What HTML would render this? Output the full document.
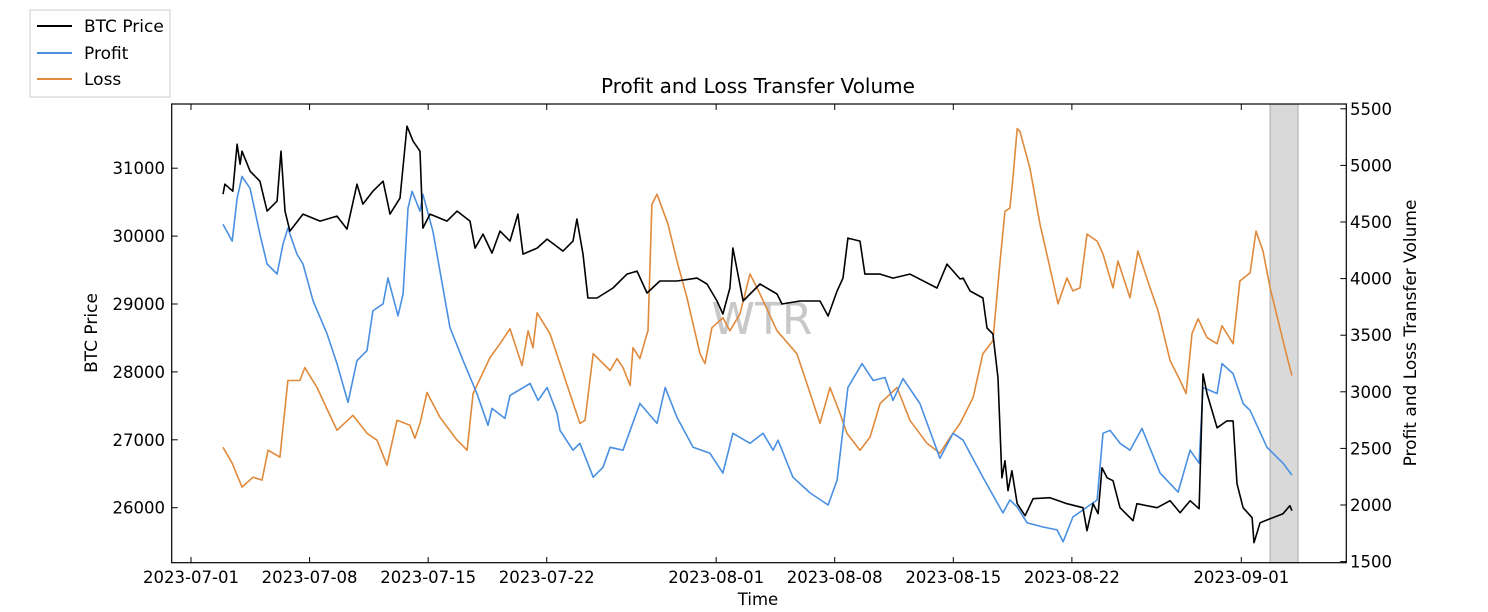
<!DOCTYPE html>
<html><head><meta charset="utf-8"><style>
body{margin:0;background:#fff;}
svg{display:block;font-family:"DejaVu Sans","Liberation Sans",sans-serif;}
</style></head><body>
<svg id="chart" width="1488" height="612" viewBox="0 0 1488 612" xmlns="http://www.w3.org/2000/svg">
<rect width="1488" height="612" fill="#fff"/>
<text x="762" y="334" font-size="44" fill="#c8c8c8" text-anchor="middle">WTR</text>
<g id="span"></g>
<g id="lines"></g>
<rect x="171.7" y="104" width="1174.6" height="458.7" fill="none" stroke="#000" stroke-width="1.2"/>
<g id="axes"></g>
<text x="758" y="93" font-size="20" text-anchor="middle">Profit and Loss Transfer Volume</text>
<text x="758" y="605" font-size="16.5" text-anchor="middle">Time</text>
<text transform="translate(97,333) rotate(-90)" font-size="17" text-anchor="middle">BTC Price</text>
<text transform="translate(1416,333) rotate(-90)" font-size="17" text-anchor="middle">Profit and Loss Transfer Volume</text>
<g>
<rect x="30" y="10" width="140" height="87" fill="#fff" stroke="#ccc" stroke-width="1"/>
<g><line x1="37" y1="26" x2="72" y2="26" stroke="#000" stroke-width="2"/><text x="84" y="32" font-size="17">BTC Price</text></g>
<g><line x1="37" y1="53" x2="72" y2="53" stroke="#4a90e2" stroke-width="2"/><text x="84" y="59" font-size="17">Profit</text></g>
<g><line x1="37" y1="79" x2="72" y2="79" stroke="#e08a3c" stroke-width="2"/><text x="84" y="85" font-size="17">Loss</text></g>
</g>
</svg>
<script>
const priceDays=[1.89,2.00,2.47,2.72,2.90,3.01,3.49,4.07,4.49,5.08,5.31,5.55,5.84,6.61,7.62,8.62,9.21,9.80,10.15,10.74,11.34,11.75,12.34,12.75,13.11,13.52,13.69,14.11,15.11,15.71,16.47,16.77,17.24,17.77,18.24,18.83,19.30,19.60,20.43,21.02,21.96,22.55,22.78,23.14,23.43,23.97,24.91,25.74,26.33,26.92,27.68,28.69,29.87,30.46,31.05,31.40,31.81,31.99,32.59,33.59,34.59,34.89,35.95,37.13,37.61,38.14,38.49,38.78,39.49,39.78,40.68,41.44,42.44,44.04,44.63,45.40,45.58,45.99,46.75,46.99,47.34,47.64,47.87,48.05,48.23,48.46,48.77,49.24,49.71,50.71,51.71,52.65,52.89,53.25,53.55,53.78,54.08,54.43,54.84,55.61,55.84,57.03,57.80,58.39,58.98,59.51,59.74,59.98,60.57,61.15,61.52,61.75,62.11,62.64,62.75,63.11,64.46,64.87,64.99];
const priceValues=[30618,30765,30662,31353,31059,31250,30956,30809,30368,30515,31250,30368,30074,30324,30221,30294,30103,30765,30471,30662,30809,30324,30559,31618,31397,31250,30118,30324,30221,30368,30221,29824,30029,29750,30074,29926,30324,29735,29824,29956,29779,29926,30250,29735,29088,29088,29235,29441,29485,29162,29338,29338,29382,29294,29044,28853,29235,29824,29044,29294,29147,29000,29044,29044,28824,29191,29382,29971,29926,29441,29441,29382,29441,29235,29588,29368,29382,29191,29088,28647,28559,27912,26441,26691,26250,26544,26059,25882,26132,26147,26059,26000,25662,26059,25912,26588,26441,26397,26000,25809,26059,26000,26103,25926,26103,25985,27971,27676,27176,27279,27279,26353,26000,25853,25485,25779,25912,26029,25956];
const profitDays=[1.89,2.43,2.72,3.01,3.49,4.07,4.49,5.08,5.43,5.72,6.25,6.61,7.21,8.03,8.62,9.27,9.80,10.39,10.74,11.34,11.63,12.22,12.52,12.81,13.05,13.52,13.69,14.28,15.29,16.06,16.88,17.53,17.77,18.53,18.83,20.02,20.49,21.02,21.61,21.78,22.55,22.96,23.74,24.32,24.74,25.50,26.50,27.51,27.99,28.69,29.64,30.64,31.40,31.99,33.00,33.77,34.36,34.65,35.53,36.55,37.61,38.14,38.78,39.61,40.27,40.97,41.44,42.03,43.03,44.21,44.99,45.58,46.75,47.93,48.34,48.77,49.36,50.30,51.12,51.48,52.06,53.49,53.84,54.25,54.84,55.43,56.14,57.21,58.27,58.98,59.51,59.74,60.57,60.86,61.52,62.11,62.52,63.52,64.46,64.99];
const profitValues=[4481,4331,4709,4903,4797,4393,4129,4041,4305,4446,4217,4129,3803,3513,3249,2906,3276,3364,3715,3777,4006,3671,3865,4622,4771,4595,4745,4419,3566,3276,2985,2704,2853,2765,2968,3073,2924,3038,2809,2660,2484,2545,2246,2334,2510,2484,2897,2721,3038,2774,2510,2457,2282,2633,2545,2633,2484,2572,2246,2106,2000,2220,3038,3249,3100,3126,2924,3117,2897,2413,2633,2572,2246,1930,2044,1982,1842,1806,1780,1675,1894,2044,2633,2660,2545,2484,2677,2282,2114,2484,2369,3038,2985,3249,3161,2897,2836,2510,2369,2264];
const lossDays=[1.89,2.43,3.01,3.66,4.19,4.55,5.25,5.72,6.43,6.72,7.44,8.62,9.56,10.39,10.98,11.57,12.16,12.93,13.22,13.52,13.93,14.70,15.71,16.30,16.65,17.65,18.24,18.83,19.54,19.90,20.19,20.43,21.19,21.78,22.37,22.96,23.26,23.74,24.74,25.15,25.50,25.92,26.09,26.50,26.92,26.98,27.21,27.51,28.16,28.69,29.28,30.05,30.34,30.75,31.40,31.81,32.41,33.00,33.59,34.59,35.77,36.55,37.13,37.72,38.31,38.72,39.49,40.08,40.68,41.68,42.44,43.45,44.21,44.81,45.40,46.17,46.75,47.34,47.76,48.05,48.34,48.52,48.77,48.94,49.53,50.12,50.71,51.18,51.71,52.06,52.48,52.89,53.49,53.84,54.43,54.72,55.43,55.90,56.62,57.09,57.80,58.39,58.74,59.09,59.45,59.98,60.57,60.86,61.52,61.92,62.52,62.87,63.28,63.70,64.71,64.99];
const lossValues=[2510,2369,2158,2246,2220,2484,2422,3100,3100,3214,3038,2660,2792,2633,2572,2352,2748,2704,2589,2721,2994,2774,2572,2484,2985,3302,3425,3557,3232,3539,3390,3698,3513,3249,2985,2721,2748,3337,3188,3293,3214,3056,3390,3293,3513,3539,4657,4745,4481,4155,3830,3337,3249,3566,3654,3539,3689,4041,3865,3539,3337,2985,2721,3038,2809,2633,2484,2598,2897,3038,2748,2545,2457,2598,2721,2950,3337,3451,4155,4595,4622,4885,5325,5299,4973,4481,4094,3777,4006,3891,3918,4393,4331,4217,3918,4155,3830,4243,3918,3715,3276,3100,2985,3513,3645,3478,3425,3583,3425,3979,4050,4419,4243,3918,3302,3144];
const xTickDays=[0,7,14,21,31,38,45,52,62];
const xTickLabels=["2023-07-01","2023-07-08","2023-07-15","2023-07-22","2023-08-01","2023-08-08","2023-08-15","2023-08-22","2023-09-01"];
const leftTicks=[26000,27000,28000,29000,30000,31000];
const rightTicks=[1500,2000,2500,3000,3500,4000,4500,5000,5500];
const highlightRange=[63.7,65.35];

const NS="http://www.w3.org/2000/svg";
const xs=d=>191+d*16.94;
const yL=p=>507.7-(p-26000)*0.0679;
const yR=v=>505-(v-2000)*0.1132;
function mk(tag,attrs,parent){const e=document.createElementNS(NS,tag);for(const k in attrs)e.setAttribute(k,attrs[k]);parent.appendChild(e);return e;}
const axes=document.getElementById('axes');
const span=document.getElementById('span');
const hl=mk('rect',{x:xs(highlightRange[0]),y:104,width:xs(highlightRange[1])-xs(highlightRange[0]),height:458.7,fill:'#d9d9d9',stroke:'#aaa','stroke-width':1},span);


xTickDays.forEach((d,i)=>{
  const x=xs(d);
  mk('line',{x1:x,y1:562.7,x2:x,y2:557,stroke:'#000'},axes);
  mk('line',{x1:x,y1:104,x2:x,y2:110,stroke:'#000'},axes);
  const t=mk('text',{x:x,y:583,'font-size':16.5,'text-anchor':'middle'},axes);
  t.textContent=xTickLabels[i];
  
  
});
leftTicks.forEach(v=>{
  const y=yL(v);
  mk('line',{x1:171.7,y1:y,x2:177.7,y2:y,stroke:'#000'},axes);
  const t=mk('text',{x:165,y:y+6,'font-size':16.5,'text-anchor':'end'},axes);
  t.textContent=v;
  
  
});
rightTicks.forEach(v=>{
  const y=yR(v);
  mk('line',{x1:1346.3,y1:y,x2:1340.3,y2:y,stroke:'#000'},axes);
  const t=mk('text',{x:1350,y:y+6,'font-size':16.5,'text-anchor':'start'},axes);
  t.textContent=v;
  
  
});
const lines=document.getElementById('lines');
function series(days,vals,yf,color,name){
  const pts=days.map((d,i)=>xs(d).toFixed(1)+','+yf(vals[i]).toFixed(1)).join(' ');
  const p=mk('polyline',{points:pts,fill:'none',stroke:color,'stroke-width':1.6,'stroke-linejoin':'round'},lines);
  
  
}
series(lossDays,lossValues,yR,'#e08a3c','loss-line');
series(profitDays,profitValues,yR,'#4a90e2','profit-line');
series(priceDays,priceValues,yL,'#000','btc-price-line');
</script>
</body></html>
